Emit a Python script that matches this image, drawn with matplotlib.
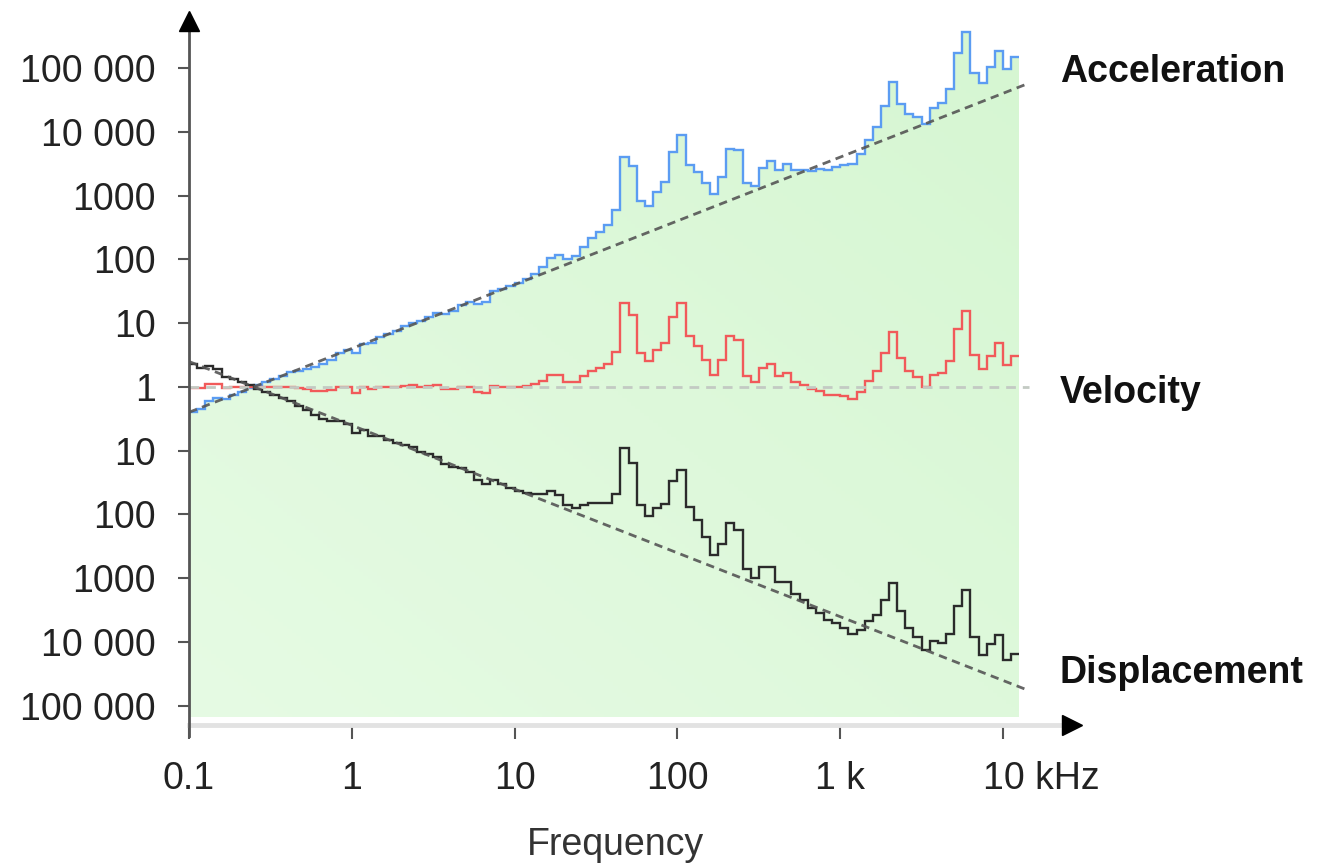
import numpy as np
import matplotlib
matplotlib.use('Agg')
import matplotlib.pyplot as plt
from matplotlib.colors import LinearSegmentedColormap
from matplotlib.transforms import ScaledTranslation

plt.rcParams['font.family'] = ['Liberation Sans', 'DejaVu Sans']

# band grid: 20 bands per decade from 0.1 Hz up to ~12.6 kHz
bands_per_decade = 20
n_bands = 102
band_edges = 10 ** (-1 + np.arange(n_bands + 1) / bands_per_decade)

# velocity spectrum, log10 of level relative to 1, one value per band
vel_log = [
    -0.02, -0.02, 0.05, 0.05, -0.02, 0.0, 0.0, 0.0, 0.0, 0.0,
    0.0, 0.0, 0.0, -0.02, -0.04, -0.07, -0.07, -0.05, 0.0, 0.0,
    -0.10, 0.0, -0.04, 0.0, 0.0, 0.0, 0.02, 0.03, 0.0, 0.02,
    0.03, -0.03, -0.03, 0.0, 0.0, -0.08, -0.10, 0.02, 0.0, 0.0,
    0.0, 0.02, 0.05, 0.10, 0.19, 0.19, 0.08, 0.08, 0.17, 0.25,
    0.30, 0.36, 0.55, 1.32, 1.13, 0.53, 0.41, 0.58, 0.69, 1.10,
    1.32, 0.80, 0.64, 0.42, 0.19, 0.42, 0.80, 0.74, 0.17, 0.08,
    0.30, 0.36, 0.17, 0.22, 0.08, 0.03, -0.04, -0.06, -0.12, -0.13,
    -0.15, -0.19, -0.08, 0.10, 0.25, 0.53, 0.86, 0.46, 0.25, 0.16,
    0.00, 0.19, 0.22, 0.40, 0.90, 1.19, 0.50, 0.28, 0.49, 0.69,
    0.35, 0.49,
]

# crossover frequency where the three curves meet
f0 = 0.25

# straight reference slopes (dashed)
ref_f = [0.1, 14500]
acc_ref = [0.4, 58000]
vel_ref = [1, 1]
disp_ref = [2.5, 1 / 58000]

yticks = [1e5, 1e4, 1e3, 1e2, 1e1, 1, 1e-1, 1e-2, 1e-3, 1e-4, 1e-5]
ytick_labels = ['100 000', '10 000', '1000', '100', '10', '1',
                '10', '100', '1000', '10 000', '100 000']
xticks = [0.1, 1, 10, 100, 1000, 10000]
xtick_labels = ['0.1', '1', '10', '100', '1 k', '10 kHz']

# acceleration and displacement follow from velocity (x f and / f)
fc = np.sqrt(band_edges[:-1] * band_edges[1:])
vel = 10 ** np.array(vel_log)
acc = vel * fc / f0
disp = vel * f0 / fc

W, H = 1334, 866
fig = plt.figure(figsize=(W / 100, H / 100), dpi=100)
ax = fig.add_axes([189 / W, 1 - 725 / H, 893 / W, 710 / H])
ax.set_xscale('log')
ax.set_yscale('log')
ax.set_xlim(0.1, 10 ** 4.485)
ax.set_ylim(10 ** -5.30, 10 ** 5.83)

# green area under the acceleration spectrum, soft diagonal gradient
fill_floor = 10 ** -5.17
area = ax.stairs(acc, band_edges, baseline=fill_floor, fill=True,
                 color='none', lw=0)
gx, gy = np.meshgrid(np.linspace(0, 1, 200), np.linspace(0, 1, 200))
grad = (gx + gy) / 2
cmap = LinearSegmentedColormap.from_list('gr', ['#e6fbe4', '#d5f6d1'])
im = ax.imshow(grad, extent=(0, 1, 0, 1), transform=ax.transAxes,
               origin='lower', cmap=cmap, aspect='auto', zorder=1)
im.set_clip_path(area)
ax.set_xlim(0.1, 10 ** 4.485)
ax.set_ylim(10 ** -5.30, 10 ** 5.83)

# spectra
ax.stairs(acc, band_edges, baseline=None, color='#5b9cf2', lw=1.7, zorder=3)
ax.stairs(vel, band_edges, baseline=None, color='#f15a5a', lw=1.7, zorder=3)
ax.stairs(disp, band_edges, baseline=None, color='#2b2b2b', lw=1.7, zorder=3)

# reference slopes
ax.plot(ref_f, vel_ref, color='#c3cac3', lw=2, dashes=(3.5, 2.5), zorder=4)
ax.plot(ref_f, acc_ref, color='#555555', lw=2, dashes=(3, 2), alpha=0.9, zorder=4)
ax.plot(ref_f, disp_ref, color='#555555', lw=2, dashes=(3, 2), alpha=0.9, zorder=4)

# axes: hand drawn spines with arrow heads
for s in ax.spines.values():
    s.set_visible(False)
ax.plot([0, 0.985], [0, 0], transform=ax.transAxes, color='#e2e2e2',
        lw=3.5, clip_on=False, zorder=5)
ax.plot([0, 0], [-0.016, 0.985], transform=ax.transAxes, color='#555555',
        lw=2, clip_on=False, zorder=6)
ax.plot(0, 0.9915, marker='^', ms=15, color='black', transform=ax.transAxes,
        clip_on=False, zorder=7)
ax.plot(0.989, 0, marker='>', ms=15, color='black', transform=ax.transAxes,
        clip_on=False, zorder=7)

ax.minorticks_off()
ax.set_yticks(yticks)
ax.set_yticklabels(ytick_labels)
ax.set_xticks(xticks)
ax.set_xticklabels(xtick_labels)
ax.tick_params(axis='y', length=8, width=1.5, color='#555555', pad=16,
               labelsize=27, labelcolor='#222222')
ax.tick_params(axis='x', length=10, width=1.5, color='#555555', pad=16,
               labelsize=27, labelcolor='#222222')

# keep "10" of "10 kHz" centred under its tick
khz = ax.get_xticklabels()[-1]
khz.set_horizontalalignment('left')
khz.set_transform(khz.get_transform() + ScaledTranslation(-0.2, 0, fig.dpi_scale_trans))

fig.text(615 / W, 1 - 845 / H, 'Frequency', ha='center', va='center',
         fontsize=27, color='#333333')
for label, y in [('Acceleration', 72), ('Velocity', 393), ('Displacement', 673)]:
    fig.text(1060 / W, 1 - y / H, label, ha='left', va='center',
             fontsize=27, fontweight='bold', color='#111111')

fig.savefig('out.png', dpi=100)
